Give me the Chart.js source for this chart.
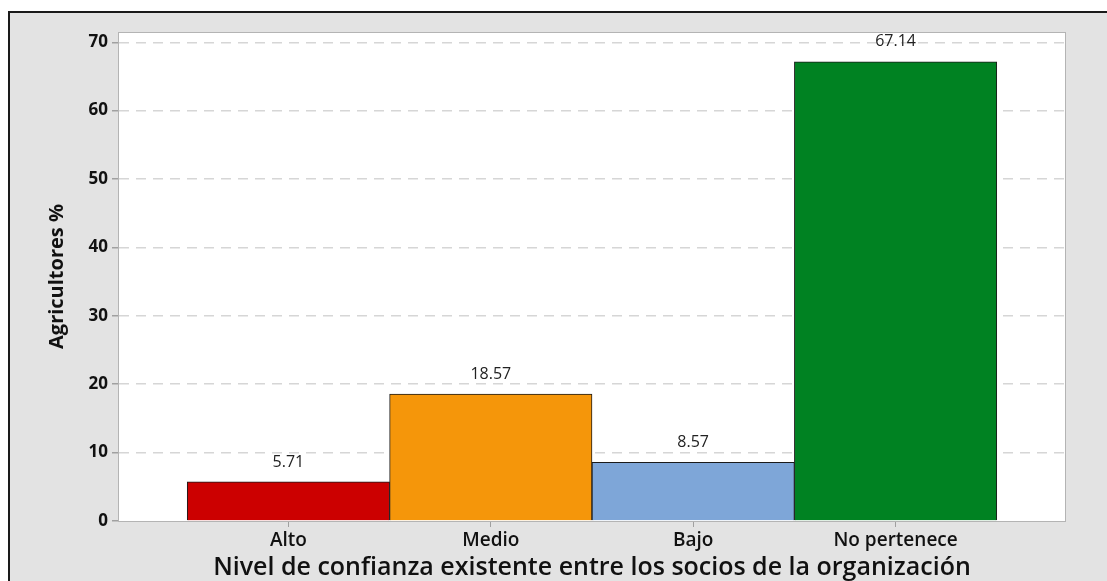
<!DOCTYPE html>
<html>
<head>
<meta charset="utf-8">
<script src="https://cdn.jsdelivr.net/npm/chart.js@4.4.0/dist/chart.umd.min.js"></script>
<style>
    html, body { margin: 0; padding: 0; background: #fff; }
    #frame {
        position: absolute; left: 8px; top: 11px; width: 1099px; height: 570px;
        background: #e3e3e3; border-left: 2px solid #1a1a1a; border-top: 2px solid #1a1a1a;
        box-sizing: border-box;
    }
    #wrap { position: absolute; left: 0; top: 0; width: 1107px; height: 581px; }
</style>
</head>
<body>
<div id="frame"></div>
<div id="wrap"><canvas id="barChart" width="1107" height="581"></canvas></div>
<script>
// Data
const categories = ['Alto', 'Medio', 'Bajo', 'No pertenece'];
const agricultoresPct = [5.71, 18.57, 8.57, 67.14];
const yTicks = [0, 10, 20, 30, 40, 50, 60, 70];

// Bar colours
const barColors = ['#cc0000', '#f5960a', '#7ea6d8', '#008222'];

const FONT = "'Open Sans', 'DejaVu Sans', sans-serif";

// White plot area, grey frame and value labels
const plotFrame = {
    id: 'plotFrame',
    beforeDraw(chart) {
        const { ctx, chartArea: a } = chart;
        ctx.save();
        ctx.fillStyle = '#ffffff';
        ctx.fillRect(a.left, a.top, a.right - a.left, a.bottom - a.top);
        ctx.restore();
    },
    afterDraw(chart) {
        const { ctx, chartArea: a } = chart;
        ctx.save();
        ctx.strokeStyle = '#b4b4b4';
        ctx.lineWidth = 1;
        ctx.strokeRect(a.left + 0.5, a.top + 0.5, a.right - a.left - 1, a.bottom - a.top);

        // value labels above bars
        const meta = chart.getDatasetMeta(0);
        ctx.fillStyle = '#222';
        ctx.font = '16px ' + FONT;
        ctx.textAlign = 'center';
        ctx.textBaseline = 'middle';
        meta.data.forEach((bar, i) => {
            ctx.fillText(agricultoresPct[i].toFixed(2), bar.x, bar.y - 20);
        });
        ctx.restore();
    }
};

const ctx = document.getElementById('barChart').getContext('2d');
new Chart(ctx, {
    type: 'bar',
    data: {
        datasets: [{
            data: agricultoresPct.map((v, i) => ({ x: i, y: v })),
            backgroundColor: barColors,
            borderColor: '#1a1a1a',
            borderWidth: 1,
            barPercentage: 1,
            categoryPercentage: 1
        }]
    },
    options: {
        responsive: false,
        animation: false,
        layout: { padding: { left: 0, top: 32, right: 41, bottom: 0 } },
        plugins: {
            legend: { display: false },
            tooltip: { enabled: false }
        },
        scales: {
            x: {
                type: 'linear',
                min: -0.842,
                max: 3.842,
                offset: false,
                afterBuildTicks: scale => { scale.ticks = categories.map((c, i) => ({ value: i })); },
                afterFit: scale => { scale.height = 60; },
                grid: {
                    offset: false,
                    drawOnChartArea: false,
                    drawTicks: true,
                    tickLength: 6,
                    tickColor: '#a0a0a0'
                },
                border: { display: false },
                ticks: {
                    autoSkip: false,
                    maxRotation: 0,
                    padding: 2,
                    color: '#111',
                    font: { family: FONT, size: 19, weight: '600' },
                    callback: v => categories[v]
                },
                title: {
                    display: true,
                    text: 'Nivel de confianza existente entre los socios de la organización',
                    color: '#111',
                    font: { family: FONT, size: 25, weight: '600' },
                    padding: { top: 0, bottom: -2 }
                }
            },
            y: {
                min: 0,
                max: 71.5,
                afterBuildTicks: scale => { scale.ticks = yTicks.map(v => ({ value: v })); },
                afterFit: scale => { scale.width = 118; },
                grid: {
                    color: c => (c.tick && c.tick.value === 0) ? 'rgba(0,0,0,0)' : '#d6d6d6',
                    lineWidth: 1.5,
                    tickBorderDash: [],
                    tickLength: 6,
                    tickColor: '#a0a0a0'
                },
                border: { display: true, color: '#b0b0b0', width: 1, dash: [10, 7] },
                ticks: {
                    padding: 4,
                    color: '#111',
                    font: { family: FONT, size: 17, weight: '700' }
                },
                title: {
                    display: true,
                    text: 'Agricultores %',
                    color: '#111',
                    font: { family: FONT, size: 20, weight: '700' },
                    padding: { top: 45, bottom: 0 }
                }
            }
        }
    },
    plugins: [plotFrame]
});
</script>
</body>
</html>
